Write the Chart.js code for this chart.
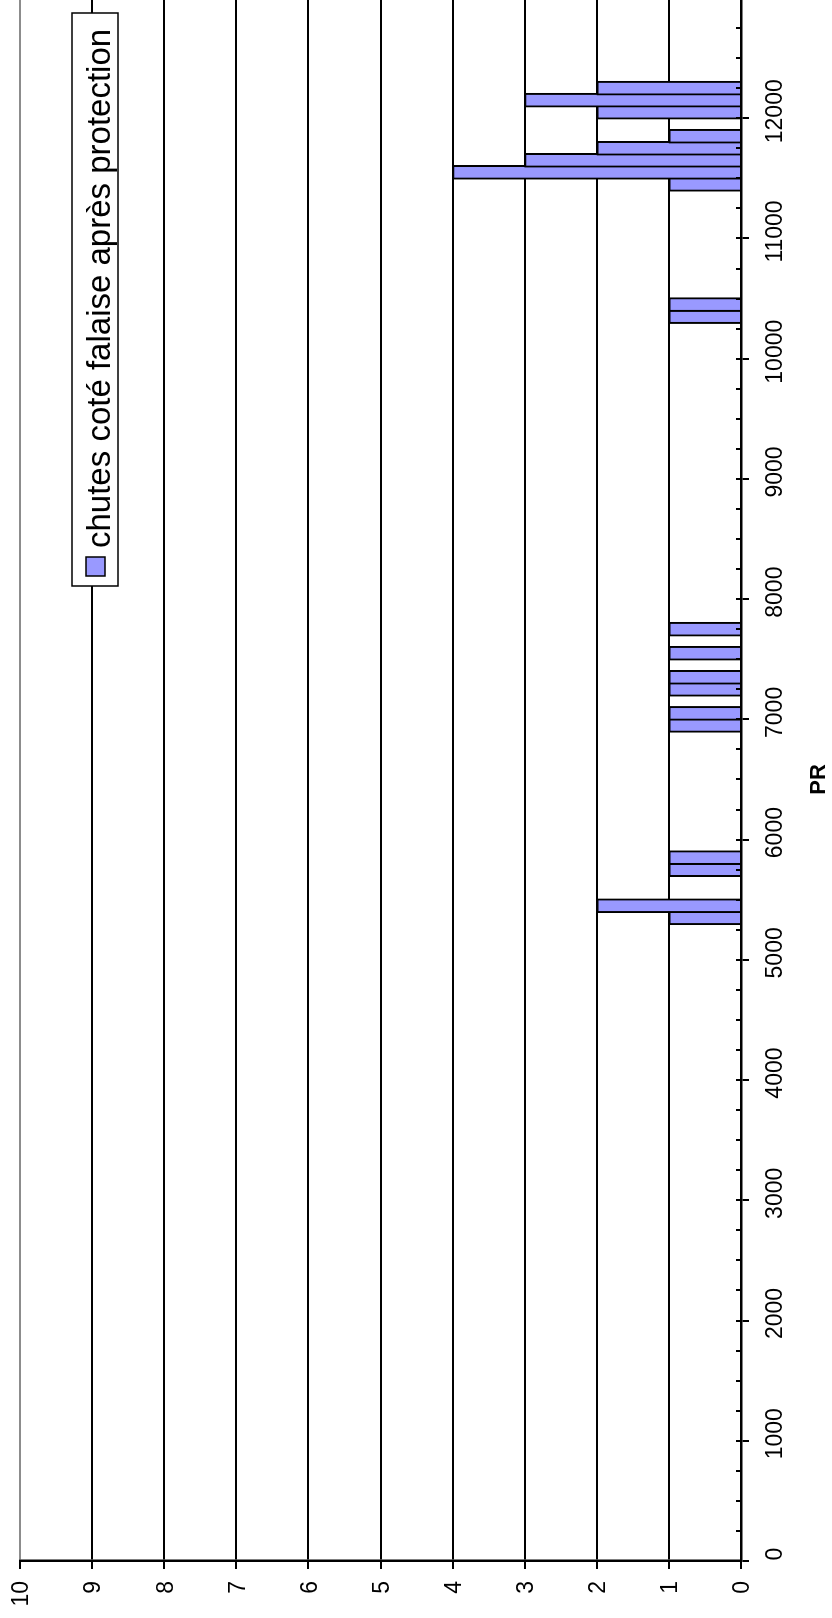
<!DOCTYPE html>
<html>
<head>
<meta charset="utf-8">
<script src="https://cdn.jsdelivr.net/npm/chart.js@4.4.1/dist/chart.umd.min.js"></script>
<style>
  html, body { margin: 0; padding: 0; background: #fff; overflow: hidden; }
  /* the chart is laid out landscape and turned a quarter turn to the left */
  #wrap {
    position: absolute; left: 0; top: 0;
    width: 1620px; height: 832px;
    transform-origin: 0 0;
    transform: translateY(1618px) rotate(-90deg);
  }
</style>
</head>
<body>
<div id="wrap"><canvas id="chutes" width="1620" height="832"></canvas></div>
<script>
  // PR bins (lower bound, 100 m wide) and number of falls on the cliff side
  const binStart = [5300, 5400, 5700, 5800, 6900, 7000, 7200, 7300, 7500, 7700,
                    10300, 10400, 11400, 11500, 11600, 11700, 11800, 12000, 12100, 12200];
  const chutes = [1, 2, 1, 1, 1, 1, 1, 1, 1, 1,
                  1, 1, 1, 4, 3, 2, 1, 2, 3, 2];
  const binWidth = 100;
  const serieLabel = 'chutes coté falaise après protection';

  // axes
  const prMin = 0, prMax = 13000, prStep = 1000, prMinorStep = 250;
  const countMin = 0, countMax = 10, countStep = 1;

  const FONT = '"Liberation Sans", Arial, Helvetica, sans-serif';

  // small inner tick marks every 250 along the PR axis
  const minorTicks = {
    id: 'minorTicks',
    afterDraw(chart) {
      const x = chart.scales.x;
      const ctx = chart.ctx;
      const bottom = chart.chartArea.bottom;
      ctx.save();
      ctx.strokeStyle = '#000';
      ctx.lineWidth = 2;
      ctx.beginPath();
      for (let v = prMin; v <= prMax; v += prMinorStep) {
        const px = Math.round(x.getPixelForValue(v));
        ctx.moveTo(px, bottom - 5);
        ctx.lineTo(px, bottom);
      }
      ctx.stroke();
      ctx.restore();
    }
  };

  // boxed legend sitting inside the plot, top right
  const legendBox = {
    id: 'legendBox',
    afterDraw(chart) {
      const {ctx, chartArea} = chart;
      const ds = chart.data.datasets[0];
      ctx.save();
      ctx.font = '33px ' + FONT;
      const tw = ctx.measureText(ds.label).width;
      const h = 46, sw = 19;
      const right = chartArea.right - 15;
      const left = Math.round(right - (10 + sw + 9 + tw + 16));
      const top = chartArea.top + 52;
      ctx.fillStyle = '#fff';
      ctx.fillRect(left, top, right - left, h);
      ctx.lineWidth = 1.5;
      ctx.strokeStyle = '#000';
      ctx.strokeRect(left, top, right - left, h);
      ctx.fillStyle = ds.backgroundColor;
      ctx.fillRect(left + 10, top + 14, sw, sw);
      ctx.strokeRect(left + 10, top + 14, sw, sw);
      ctx.fillStyle = '#000';
      ctx.textBaseline = 'alphabetic';
      ctx.fillText(ds.label, left + 10 + sw + 9, top + 38);
      ctx.restore();
    }
  };

  const ctx = document.getElementById('chutes').getContext('2d');

  const chart = new Chart(ctx, {
    type: 'bar',
    data: {
      datasets: [{
        label: serieLabel,
        data: binStart.map((p, i) => ({ x: p + binWidth / 2, y: chutes[i] })),
        backgroundColor: '#9999ff',
        borderColor: '#000',
        borderWidth: 2,
        borderSkipped: 'start',
        barThickness: 14,
      }],
    },
    options: {
      responsive: false,
      animation: false,
      devicePixelRatio: 1,
      layout: { autoPadding: false, padding: { top: 20, right: 0, bottom: 0, left: 0 } },
      plugins: {
        legend: { display: false },
        tooltip: { enabled: false },
      },
      scales: {
        x: {
          type: 'linear',
          min: prMin,
          max: prMax,
          offset: false,
          afterFit: s => { s.height = 91; s.paddingLeft = 0; s.paddingRight = 0; },
          grid: {
            offset: false,
            drawOnChartArea: false,
            drawTicks: true,
            tickLength: 8,
            color: '#000',
            lineWidth: 2,
          },
          border: { display: true, color: '#000', width: 2.5 },
          ticks: {
            stepSize: prStep,
            maxRotation: 0,
            autoSkip: false,
            padding: 15,
            labelOffset: 7,
            color: '#000',
            font: { family: FONT, size: 23, lineHeight: 1 },
            callback: v => (v < prMax ? String(v) : ''),
          },
          title: {
            display: true,
            text: 'PR',
            color: '#000',
            padding: { top: 4, bottom: 2 },
            font: { family: FONT, size: 22, weight: 'bold', lineHeight: 1 },
          },
        },
        y: {
          min: countMin,
          max: countMax,
          afterFit: s => { s.width = 57; s.paddingTop = 0; s.paddingBottom = 0; },
          grid: {
            color: c => (c.tick && c.tick.value === countMax ? '#8c8c8c' : '#000'),
            tickColor: '#000',
            lineWidth: 2,
            tickLength: 8,
          },
          border: { display: true, color: '#000', width: 2.5 },
          ticks: {
            stepSize: countStep,
            padding: 12,
            labelOffset: 2,
            color: '#000',
            font: { family: FONT, size: 23, lineHeight: 1 },
          },
        },
      },
    },
    plugins: [minorTicks, legendBox],
  });
</script>
</body>
</html>
